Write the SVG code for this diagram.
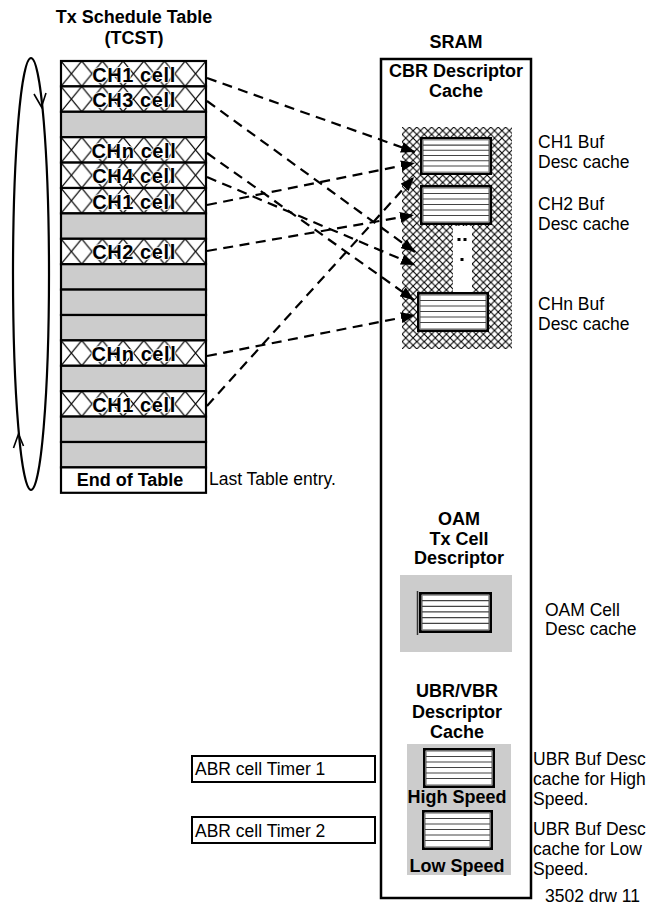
<svg xmlns="http://www.w3.org/2000/svg" xmlns:xlink="http://www.w3.org/1999/xlink" width="661" height="906" viewBox="0 0 661 906">
<style>
text{font-family:"Liberation Sans",Arial,sans-serif;fill:#000}
.b{font-weight:bold;font-size:18px;text-anchor:middle}
.r{font-size:17.5px}
.cell{font-weight:bold;font-size:20px;text-anchor:middle;letter-spacing:0.6px;stroke:#fff;stroke-width:1.6px;paint-order:stroke;stroke-linejoin:round}
.row{stroke:#000;stroke-width:2.2}
.hr{fill:url(#cellHatch)}
.gr{fill:#cccccc}
.conn{fill:none;stroke:#000;stroke-width:2.2;stroke-dasharray:10 6.5;marker-end:url(#ah)}
.frame{fill:none;stroke:#000;stroke-width:2.5}
</style>
<defs>
<pattern id="cellHatch" patternUnits="userSpaceOnUse" x="61" y="61" width="20.7" height="25.4">
<rect width="20.7" height="25.4" fill="#fff"/>
<path d="M0,0 L20.7,25.4 M20.7,0 L0,25.4" stroke="#000" stroke-width="1.1"/>
</pattern>
<pattern id="fineHatch" patternUnits="userSpaceOnUse" x="402" y="127" width="7.4" height="7.4">
<rect width="7.4" height="7.4" fill="#fff"/>
<path d="M0,0 L7.4,7.4 M7.4,0 L0,7.4" stroke="#000" stroke-width="1.1"/>
</pattern>
<marker id="ah" markerUnits="userSpaceOnUse" markerWidth="15" markerHeight="11" refX="14" refY="5.5" orient="auto">
<path d="M0,0 L14,5.5 L0,11 z" fill="#000"/>
</marker>
<symbol id="desc" viewBox="0 0 72 40" preserveAspectRatio="none">
<rect x="1.3" y="1.3" width="69.4" height="37.4" fill="#fff" stroke="#000" stroke-width="2.6"/>
<rect x="3.2" y="3.2" width="65.6" height="33.6" fill="none" stroke="#888" stroke-width="1"/>
<path d="M3,8.5 H69 M3,14 H69 M3,19.5 H69 M3,25 H69 M3,30.5 H69" stroke="#444" stroke-width="1.2"/>
</symbol>
</defs>

<g id="tcst-title">
<text class="b" x="134" y="23">Tx Schedule Table</text>
<text class="b" x="134" y="44">(TCST)</text>
</g>

<g id="loop">
<ellipse cx="31" cy="274" rx="18" ry="216" fill="none" stroke="#000" stroke-width="2.2"/>
<path d="M34,94 L41.5,107 L46,93" fill="none" stroke="#000" stroke-width="1.6"/>
<path d="M13.5,448 L18.5,434 L23.5,446" fill="none" stroke="#000" stroke-width="1.6"/>
</g>

<g id="tcst">
<g id="row0"><rect class="row hr" x="61" y="61" width="145" height="25.4"/><text class="cell" x="134" y="81.5">CH1 cell</text></g>
<g id="row1"><rect class="row hr" x="61" y="86.4" width="145" height="25.4"/><text class="cell" x="134" y="106.9">CH3 cell</text></g>
<g id="row2"><rect class="row gr" x="61" y="111.8" width="145" height="25.4"/></g>
<g id="row3"><rect class="row hr" x="61" y="137.2" width="145" height="25.4"/><text class="cell" x="134" y="157.7">CHn cell</text></g>
<g id="row4"><rect class="row hr" x="61" y="162.6" width="145" height="25.4"/><text class="cell" x="134" y="183.1">CH4 cell</text></g>
<g id="row5"><rect class="row hr" x="61" y="188" width="145" height="25.4"/><text class="cell" x="134" y="208.5">CH1 cell</text></g>
<g id="row6"><rect class="row gr" x="61" y="213.4" width="145" height="25.4"/></g>
<g id="row7"><rect class="row hr" x="61" y="238.8" width="145" height="25.4"/><text class="cell" x="134" y="259.3">CH2 cell</text></g>
<g id="row8"><rect class="row gr" x="61" y="264.2" width="145" height="25.4"/></g>
<g id="row9"><rect class="row gr" x="61" y="289.6" width="145" height="25.4"/></g>
<g id="row10"><rect class="row gr" x="61" y="315" width="145" height="25.4"/></g>
<g id="row11"><rect class="row hr" x="61" y="340.4" width="145" height="25.4"/><text class="cell" x="134" y="360.9">CHn cell</text></g>
<g id="row12"><rect class="row gr" x="61" y="365.8" width="145" height="25.4"/></g>
<g id="row13"><rect class="row hr" x="61" y="391.2" width="145" height="25.4"/><text class="cell" x="134" y="411.7">CH1 cell</text></g>
<g id="row14"><rect class="row gr" x="61" y="416.6" width="145" height="25.4"/></g>
<g id="row15"><rect class="row gr" x="61" y="442" width="145" height="25.4"/></g>
<g id="row16"><rect class="row" x="61" y="467.4" width="145" height="25.4" fill="#fff"/><text class="b" x="130" y="485.5" font-size="17.5">End of Table</text></g>
</g>

<g id="last-entry-label"><text class="r" x="209" y="485">Last Table entry.</text></g>

<g id="sram">
<text class="b" x="456" y="48">SRAM</text>
<rect class="frame" x="381" y="59" width="150" height="839"/>
</g>

<g id="cbr-cache">
<text class="b" x="456" y="77">CBR Descriptor</text>
<text class="b" x="456" y="97">Cache</text>
<rect x="402" y="127" width="110" height="222" fill="url(#fineHatch)"/>
<rect x="453" y="226" width="19" height="66" fill="#fff"/>
<rect x="457.5" y="238" width="3" height="3" fill="#000"/>
<rect x="463.5" y="238" width="3" height="3" fill="#000"/>
<rect x="460.5" y="258" width="3" height="3" fill="#000"/>
</g>

<g id="ch1-buf"><use xlink:href="#desc" x="420" y="137" width="72" height="38"/>
<text class="r" x="538" y="148">CH1 Buf</text><text class="r" x="538" y="168">Desc cache</text></g>
<g id="ch2-buf"><use xlink:href="#desc" x="420" y="185" width="72" height="40"/>
<text class="r" x="538" y="210">CH2 Buf</text><text class="r" x="538" y="230">Desc cache</text></g>
<g id="chn-buf"><use xlink:href="#desc" x="417" y="292" width="72" height="40"/>
<text class="r" x="538" y="310">CHn Buf</text><text class="r" x="538" y="330">Desc cache</text></g>

<g id="oam">
<text class="b" x="459" y="525">OAM</text>
<text class="b" x="459" y="545">Tx Cell</text>
<text class="b" x="459" y="564">Descriptor</text>
<rect x="400" y="575" width="112" height="77" fill="#cccccc"/>
<line x1="417.5" y1="591" x2="417.5" y2="635" stroke="#333" stroke-width="1.5"/>
<use xlink:href="#desc" x="419" y="592" width="73" height="41"/>
<text class="r" x="545" y="616">OAM Cell</text>
<text class="r" x="545" y="635">Desc cache</text>
</g>

<g id="ubr">
<text class="b" x="457" y="697">UBR/VBR</text>
<text class="b" x="457" y="718">Descriptor</text>
<text class="b" x="457" y="738">Cache</text>
<rect x="407" y="744" width="104" height="131" fill="#cccccc"/>
<use xlink:href="#desc" x="423" y="748" width="72" height="40"/>
<text class="b" x="457" y="803">High Speed</text>
<use xlink:href="#desc" x="422" y="810" width="71" height="40"/>
<text class="b" x="457" y="872">Low Speed</text>
<text class="r" x="533" y="765">UBR Buf Desc</text>
<text class="r" x="533" y="785">cache for High</text>
<text class="r" x="533" y="805">Speed.</text>
<text class="r" x="533" y="835">UBR Buf Desc</text>
<text class="r" x="533" y="855">cache for Low</text>
<text class="r" x="533" y="875">Speed.</text>
</g>

<g id="abr-timer-1"><rect x="192" y="756" width="183" height="26" fill="#fff" stroke="#000" stroke-width="2"/><text class="r" x="195" y="775">ABR cell Timer 1</text></g>
<g id="abr-timer-2"><rect x="192" y="817" width="183" height="26" fill="#fff" stroke="#000" stroke-width="2"/><text class="r" x="195" y="837">ABR cell Timer 2</text></g>

<g id="drawing-number"><text class="r" x="545" y="902">3502 drw 11</text></g>

<g id="connectors">
<path class="conn" d="M207,78 L415,152"/>
<path class="conn" d="M207,101 L415,252"/>
<path class="conn" d="M207,153 L414,300"/>
<path class="conn" d="M207,177 L415,265"/>
<path class="conn" d="M207,205 L415,163"/>
<path class="conn" d="M207,251 L414,215"/>
<path class="conn" d="M207,356 L415,315"/>
<path class="conn" d="M207,406 L414,177"/>
</g>
</svg>
